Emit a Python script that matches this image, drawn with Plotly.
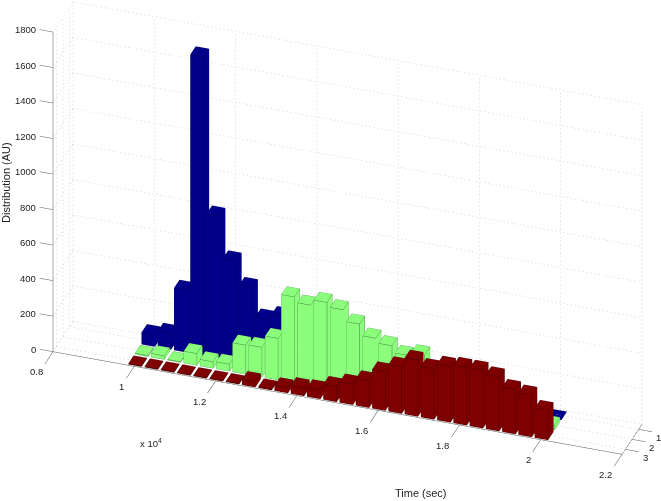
import numpy as np
import plotly.graph_objects as go

# ---- data ----
times = [10000 + 400 * i for i in range(26)]
blue_series = [66, 90, 349, 1680, 800, 564, 431, 270, 300, 200, 150, 100, 60, 40, 30, 20, 15, 10, 8, 5, 5, 3, 2, 1, 1, 0]
green_series = [5, 20, 3, 66, 36, 39, 163, 167, 234, 484, 454, 486, 461, 397, 334, 308, 270, 290, 200, 150, 120, 100, 80, 50, 40, 25]
red_series = [2, 2, 2, 2, 2, 2, 2, 30, 5, 28, 45, 50, 85, 115, 150, 217, 262, 316, 285, 315, 325, 325, 305, 250, 235, 165]
x_ticks = [8000, 10000, 12000, 14000, 16000, 18000, 20000, 22000]
x_labels = ["0.8", "1", "1.2", "1.4", "1.6", "1.8", "2", "2.2"]
y_ticks = [1, 2, 3]
z_ticks = [0, 200, 400, 600, 800, 1000, 1200, 1400, 1600, 1800]

X0, X1 = 8000, 22000
Y0, Y1 = 0.5, 3.5
XR = [7600, 22400]
YR = [4.8, 0.5]
ZR = [0, 1800]
HW, HD = 160, 0.4
GRID, AXIS, TXT = "#c4c4c4", "#5a5a5a", "#222222"
FONT = "Liberation Sans"

def boxes(xs, yc, vals):
    vx, vy, vz, I, J, K = [], [], [], [], [], []
    ex, ey, ez = [], [], []
    for x, v in zip(xs, vals):
        b = len(vx)
        for dz in (0, v):
            for dx, dy in ((-HW, -HD), (HW, -HD), (HW, HD), (-HW, HD)):
                vx.append(x + dx); vy.append(yc + dy); vz.append(dz)
        faces = [(0,1,2),(0,2,3),(4,5,6),(4,6,7),(0,1,5),(0,5,4),(1,2,6),(1,6,5),(2,3,7),(2,7,6),(3,0,4),(3,4,7)]
        for f in faces:
            I.append(b+f[0]); J.append(b+f[1]); K.append(b+f[2])
        for a, c in [(0,1),(1,2),(2,3),(3,0),(4,5),(5,6),(6,7),(7,4),(0,4),(1,5),(2,6),(3,7)]:
            ex += [vx[b+a], vx[b+c], None]; ey += [vy[b+a], vy[b+c], None]; ez += [vz[b+a], vz[b+c], None]
    return vx, vy, vz, I, J, K, ex, ey, ez

def seg_trace(segs, color, width=1):
    xs, ys, zs = [], [], []
    for p, q in segs:
        xs += [p[0], q[0], None]; ys += [p[1], q[1], None]; zs += [p[2], q[2], None]
    return go.Scatter3d(x=xs, y=ys, z=zs, mode="lines", line=dict(color=color, width=width),
                        hoverinfo="skip", showlegend=False)

def screen_len(p, q):
    dx = (q[0] - p[0]) / 14000 * 570 - (q[1] - p[1]) * 6.67
    dy = (q[0] - p[0]) / 14000 * 103 + (q[1] - p[1]) * 10 - (q[2] - p[2]) * 320 / 1800
    return float(np.hypot(dx, dy))

def dotted(p, q, period=4.0, on=1.3):
    n = int(screen_len(p, q) / period)
    p, q = np.array(p, float), np.array(q, float)
    out = []
    for k in range(n + 1):
        a = p + (q - p) * k / max(n, 1)
        b = p + (q - p) * min((k + on / period) / max(n, 1), 1)
        out.append((tuple(a), tuple(b)))
    return out

fig = go.Figure()
grid = []
for t in x_ticks:
    grid += dotted((t, Y0, 0), (t, Y0, 1800))
    grid += dotted((t, Y0, 0), (t, Y1, 0))
for z in z_ticks:
    grid += dotted((X0, Y0, z), (X1, Y0, z))
    grid += dotted((X0, Y0, z), (X0, Y1, z))
for y in y_ticks:
    grid += dotted((X0, y, 0), (X1, y, 0))
    grid += dotted((X0, y, 0), (X0, y, 1800))
fig.add_trace(seg_trace(grid, GRID, 1))

axis = [((X0, Y1, 0), (X1, Y1, 0)), ((X1, Y1, 0), (X1, Y0, 0)), ((X0, Y1, 0), (X0, Y1, 1800))]
for t in x_ticks:
    axis.append(((t, Y1, 0), (t, Y1 + 1.2, 0)))
for z in z_ticks:
    axis.append(((X0, Y1, z), (X0 - 330, Y1, z)))
for y in y_ticks:
    axis.append(((X1, y, 0), (X1 + 330, y, 0)))
fig.add_trace(seg_trace(axis, AXIS, 1))

for yc, vals, col, edge in [(1, blue_series, "#00008a", "#00004a"),
                            (2, green_series, "#8bff7b", "#3c7a3c"),
                            (3, red_series, "#7f0000", "#3a0000")]:
    vx, vy, vz, I, J, K, ex, ey, ez = boxes(times, yc, vals)
    fig.add_trace(go.Mesh3d(x=vx, y=vy, z=vz, i=I, j=J, k=K, color=col, flatshading=True,
                            lighting=dict(ambient=1, diffuse=0, specular=0, fresnel=0, roughness=1),
                            hoverinfo="skip", showscale=False))
    fig.add_trace(go.Scatter3d(x=ex, y=ey, z=ez, mode="lines", line=dict(color=edge, width=1),
                               hoverinfo="skip", showlegend=False))

ann = []
tf = dict(family=FONT, size=9.5, color=TXT)
for t, s in zip(x_ticks, x_labels):
    ann.append(dict(x=t, y=Y1 + 1.2, z=0, text=s, showarrow=False, xanchor="right", yanchor="middle", yshift=-8, font=tf))
for z in z_ticks:
    ann.append(dict(x=X0 - 330, y=Y1, z=z, text=str(z), showarrow=False, xanchor="right", yanchor="middle", xshift=-2, font=tf))
for y in y_ticks:
    ann.append(dict(x=X1 + 330, y=y, z=0, text=str(y), showarrow=False, xanchor="left", yanchor="middle", xshift=2, yshift=-6, font=tf))

# projection parameters
sa, ca = np.sin(np.radians(19.1)), np.cos(np.radians(19.1))
sp, cp = np.sin(np.radians(31.4)), np.cos(np.radians(31.4))
direction = np.array([cp * sa, -cp * ca, sp])
DIST = 4.0
SCALE = 1.495
asp_x = SCALE * 1.608 * (XR[1] - XR[0]) / (X1 - X0)
asp_y = SCALE * 0.163 * abs(YR[1] - YR[0]) / (Y1 - Y0)
asp_z = SCALE
center = np.array([asp_x * (-312) / 14800, 0.0, asp_z * (-102) / 1800])
eye = center + direction * DIST

hidden = dict(visible=False)
fig.update_layout(
    width=661, height=501, margin=dict(l=0, r=0, t=0, b=0), paper_bgcolor="white",
    font=dict(family=FONT, color=TXT),
    scene=dict(
        domain=dict(x=[0, 1], y=[0, 1]),
        xaxis=dict(range=XR, **hidden), yaxis=dict(range=YR, **hidden), zaxis=dict(range=ZR, **hidden),
        aspectmode="manual", aspectratio=dict(x=asp_x, y=asp_y, z=asp_z),
        camera=dict(projection=dict(type="orthographic"), up=dict(x=0, y=0, z=1),
                    center=dict(x=center[0], y=center[1], z=center[2]), eye=dict(x=eye[0], y=eye[1], z=eye[2])),
        annotations=ann),
    annotations=[
        dict(xref="paper", yref="paper", x=420.7/661, y=1-493.3/501, text="Time (sec)", showarrow=False,
             xanchor="center", yanchor="middle", font=dict(size=11)),
        dict(xref="paper", yref="paper", x=6/661, y=1-183/501, text="Distribution (AU)", textangle=-90, showarrow=False,
             xanchor="center", yanchor="middle", font=dict(size=11)),
        dict(xref="paper", yref="paper", x=151/661, y=1-443/501, text="x 10<sup>4</sup>", showarrow=False,
             xanchor="center", yanchor="middle", font=dict(size=9.5)),
    ])
fig.write_html("out.html", post_script="document.body.style.margin='0';", config=dict(displayModeBar=False))
